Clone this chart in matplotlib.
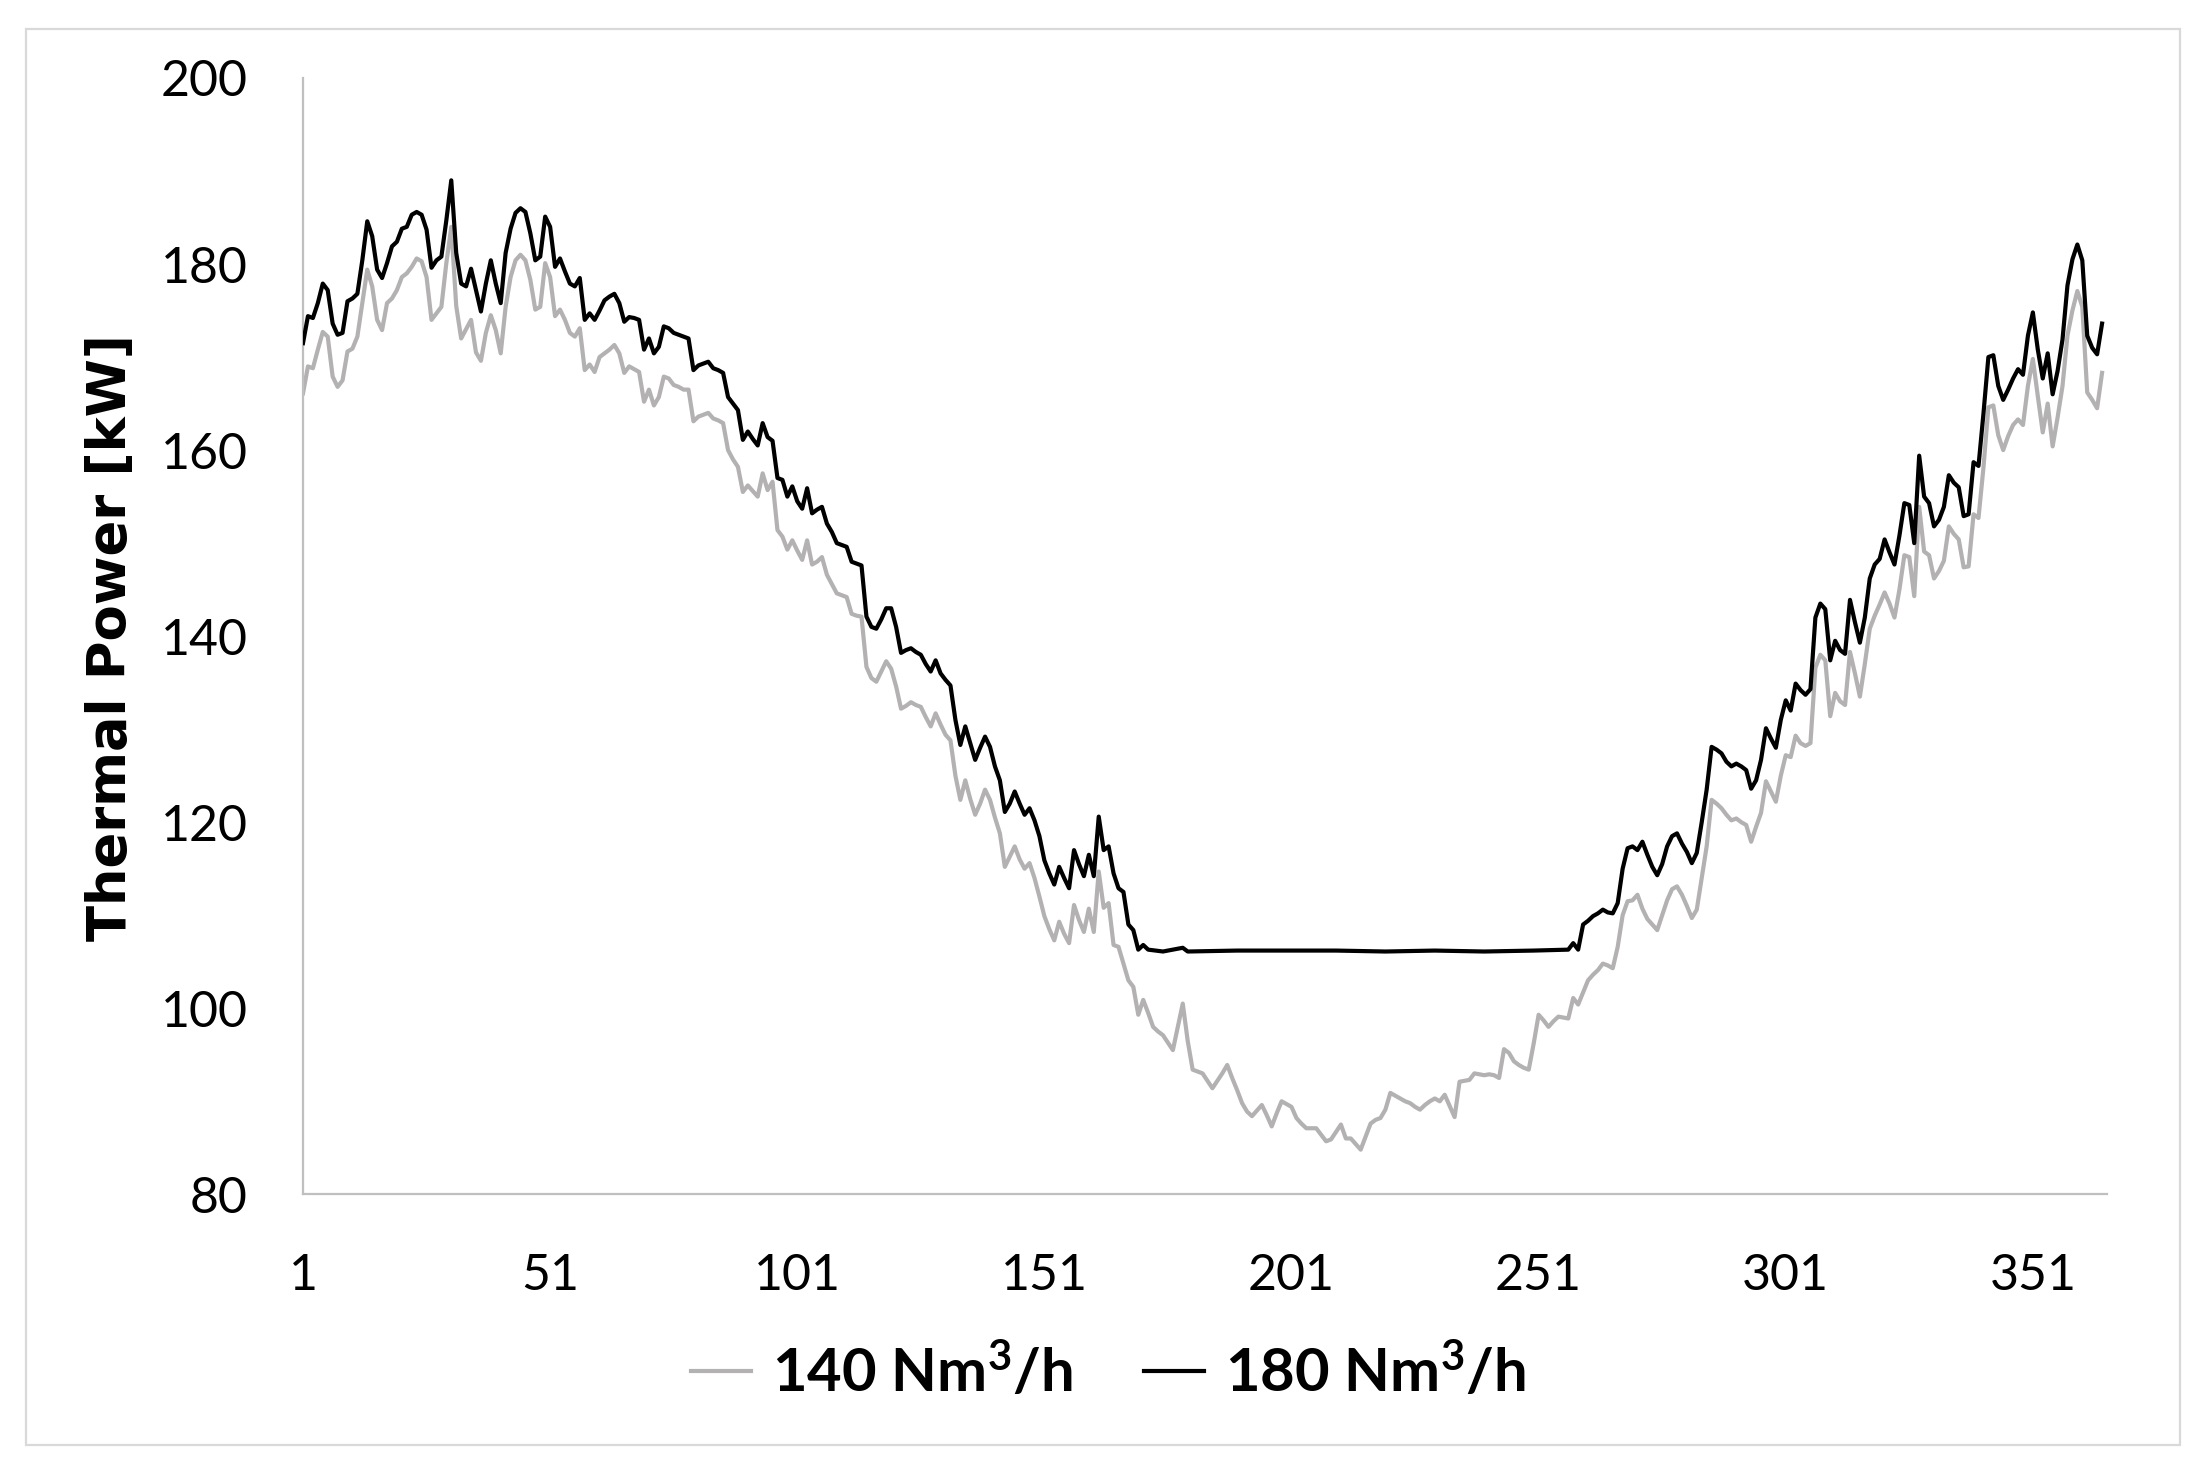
import matplotlib
matplotlib.use("Agg")
import matplotlib.pyplot as plt
from matplotlib.lines import Line2D
from matplotlib.patches import Rectangle

plt.rcParams["mathtext.fontset"] = "custom"
plt.rcParams["mathtext.rm"] = "Lato:bold"
plt.rcParams["mathtext.bf"] = "Lato:bold"
plt.rcParams["mathtext.it"] = "Lato:bold"

# ---------------- data ----------------
days_140 = list(range(1, 366))
power_140 = [
    166.1, 169.0, 168.8, 170.8, 172.7, 172.2, 167.9, 166.8, 167.5, 170.6,
    170.9, 172.2, 175.8, 179.4, 177.6, 174.0, 172.9, 175.8, 176.3, 177.2,
    178.6, 179.0, 179.7, 180.6, 180.3, 178.6, 174.0, 174.7, 175.4, 180.1,
    184.0, 175.5, 172.0, 173.0, 174.0, 170.5, 169.6, 172.6, 174.5, 172.9,
    170.4, 175.4, 178.6, 180.4, 181.0, 180.4, 178.3, 175.1, 175.4, 180.1,
    178.6, 174.4, 175.1, 174.0, 172.6, 172.2, 173.1, 168.6, 169.2, 168.4,
    170.0, 170.4, 170.8, 171.3, 170.4, 168.3, 169.0, 168.7, 168.4, 165.2,
    166.5, 164.8, 165.7, 167.9, 167.7, 167.0, 166.8, 166.5, 166.5, 163.1,
    163.6, 163.8, 164.0, 163.4, 163.2, 162.9, 160.0, 159.0, 158.2, 155.5,
    156.2, 155.6, 155.0, 157.5, 155.7, 156.6, 151.4, 150.7, 149.3, 150.3,
    149.2, 148.2, 150.3, 147.7, 148.0, 148.5, 146.6, 145.6, 144.6, 144.4,
    144.2, 142.4, 142.2, 142.1, 136.7, 135.5, 135.1, 136.2, 137.3, 136.5,
    134.6, 132.2, 132.5, 132.9, 132.6, 132.4, 131.3, 130.3, 131.7, 130.5,
    129.4, 128.8, 125.0, 122.4, 124.5, 122.5, 120.8, 122.0, 123.5, 122.4,
    120.5, 118.8, 115.2, 116.3, 117.4, 116.0, 115.0, 115.6, 114.0, 112.0,
    109.9, 108.5, 107.3, 109.3, 108.0, 107.0, 111.1, 109.5, 108.2, 110.7,
    108.2, 114.7, 110.8, 111.3, 106.8, 106.6, 104.8, 103.0, 102.3, 99.3,
    100.9, 99.5, 98.0, 97.5, 97.1, 96.3, 95.5, 98.0, 100.5, 96.5,
    93.4, 93.2, 93.0, 92.2, 91.4, 92.2, 93.0, 93.9, 92.5, 91.2,
    89.8, 88.9, 88.4, 89.0, 89.6, 88.5, 87.3, 88.7, 90.0, 89.7,
    89.4, 88.2, 87.6, 87.1, 87.1, 87.1, 86.4, 85.7, 85.9, 86.7,
    87.5, 86.0, 86.0, 85.4, 84.8, 86.2, 87.6, 88.0, 88.2, 89.1,
    90.9, 90.6, 90.3, 90.0, 89.8, 89.4, 89.1, 89.6, 90.0, 90.3,
    90.0, 90.7, 89.5, 88.3, 92.1, 92.2, 92.3, 93.0, 92.9, 92.8,
    92.9, 92.8, 92.5, 95.6, 95.2, 94.3, 93.9, 93.6, 93.4, 96.2,
    99.3, 98.7, 98.0, 98.6, 99.1, 99.0, 98.9, 101.1, 100.4, 101.7,
    103.0, 103.6, 104.1, 104.8, 104.6, 104.3, 106.6, 110.0, 111.5, 111.6,
    112.2, 110.7, 109.6, 109.0, 108.4, 110.0, 111.6, 112.8, 113.1, 112.2,
    111.0, 109.7, 110.6, 114.0, 117.4, 122.4, 122.0, 121.5, 120.8, 120.2,
    120.4, 120.0, 119.7, 117.9, 119.5, 121.0, 124.4, 123.3, 122.2, 125.0,
    127.2, 127.0, 129.3, 128.5, 128.2, 128.5, 136.6, 138.0, 137.4, 131.4,
    133.9, 133.0, 132.6, 138.3, 136.0, 133.5, 137.0, 140.8, 142.2, 143.4,
    144.7, 143.5, 142.0, 145.0, 148.7, 148.5, 144.3, 153.9, 149.1, 148.7,
    146.2, 147.0, 148.1, 151.8, 151.0, 150.4, 147.4, 147.5, 153.1, 152.7,
    158.1, 164.6, 164.8, 161.6, 160.0, 161.5, 162.7, 163.3, 162.7, 166.9,
    169.8, 165.8, 161.9, 165.0, 160.4, 163.5, 166.9, 172.3, 175.0, 177.1,
    175.4, 166.2, 165.4, 164.5, 168.3,
]

days_180 = (list(range(1, 173))
            + [175, 179, 180, 190, 200, 210, 220, 230, 240, 250, 257]
            + list(range(258, 366)))
power_180 = [
    171.5, 174.4, 174.2, 175.8, 177.9, 177.2, 173.6, 172.4, 172.6, 176.0,
    176.3, 176.8, 180.4, 184.6, 183.0, 179.4, 178.5, 180.1, 181.9, 182.4,
    183.8, 184.0, 185.3, 185.6, 185.3, 183.7, 179.6, 180.4, 180.8, 184.7,
    189.0, 181.2, 177.9, 177.6, 179.5, 177.2, 174.9, 177.9, 180.4, 177.9,
    175.8, 181.2, 183.8, 185.5, 186.0, 185.6, 183.3, 180.4, 180.8, 185.1,
    184.0, 179.7, 180.6, 179.2, 177.9, 177.6, 178.5, 174.0, 174.7, 174.0,
    175.0, 176.1, 176.5, 176.8, 175.8, 173.8, 174.3, 174.2, 174.0, 170.8,
    172.0, 170.4, 171.1, 173.3, 173.1, 172.6, 172.4, 172.2, 172.0, 168.6,
    169.1, 169.3, 169.5, 168.8, 168.6, 168.3, 165.7, 165.0, 164.3, 161.1,
    162.0, 161.2, 160.5, 162.9, 161.4, 161.0, 157.0, 156.8, 155.0, 156.1,
    154.5, 153.7, 155.9, 153.2, 153.6, 153.9, 152.1, 151.2, 150.0, 149.8,
    149.6, 148.0, 147.8, 147.6, 142.1, 141.0, 140.8, 141.8, 143.0, 143.0,
    141.0, 138.2, 138.5, 138.7, 138.3, 138.0, 137.0, 136.2, 137.4, 136.0,
    135.3, 134.7, 131.0, 128.3, 130.3, 128.5, 126.7, 128.0, 129.2, 128.1,
    126.0, 124.5, 121.1, 122.0, 123.3, 122.0, 120.8, 121.5, 120.2, 118.5,
    115.9, 114.5, 113.3, 115.2, 114.0, 112.9, 117.0, 115.5, 114.2, 116.5,
    114.2, 120.6, 117.0, 117.4, 114.5, 112.9, 112.5, 109.0, 108.4, 106.3,
    106.8, 106.3,
    106.1, 106.5, 106.1, 106.2, 106.2, 106.2, 106.1, 106.2, 106.1, 106.2, 106.3,
    107.0, 106.3, 109.0, 109.4, 109.9, 110.2, 110.6, 110.3, 110.2, 111.3,
    115.0, 117.2, 117.4, 117.0, 117.9, 116.5, 115.2, 114.3, 115.5, 117.4,
    118.5, 118.8, 117.7, 116.8, 115.6, 116.7, 120.0, 123.5, 128.1, 127.8,
    127.4, 126.5, 126.0, 126.3, 126.0, 125.6, 123.6, 124.5, 126.7, 130.1,
    129.0, 128.0, 131.0, 133.1, 132.0, 134.9, 134.2, 133.7, 134.3, 142.0,
    143.5, 142.9, 137.4, 139.5, 138.5, 138.1, 143.9, 141.5, 139.3, 142.0,
    146.2, 147.7, 148.3, 150.4, 149.0, 147.7, 150.8, 154.3, 154.1, 150.0,
    159.4, 155.0, 154.3, 151.8, 152.5, 153.9, 157.3, 156.5, 156.0, 152.9,
    153.1, 158.7, 158.3, 163.9, 170.0, 170.2, 166.9, 165.4, 166.5, 167.7,
    168.7, 168.1, 172.3, 174.8, 170.8, 167.7, 170.4, 166.0, 168.5, 171.9,
    177.7, 180.5, 182.1, 180.4, 172.3, 171.0, 170.3, 173.6,
]

labels = ["140 Nm$^{3}$/h", "180 Nm$^{3}$/h"]
x_ticks = [1, 51, 101, 151, 201, 251, 301, 351]
y_ticks = [80, 100, 120, 140, 160, 180, 200]
y_label = "Thermal Power [kW]"

# ---------------- figure ----------------
W, H = 2204, 1476
fig = plt.figure(figsize=(W / 100, H / 100), dpi=100)
fig.patch.set_facecolor("white")

# outer thin border
fig.patches.append(Rectangle((26 / W, 1 - 1445 / H), (2180 - 26) / W, (1445 - 29) / H,
                             transform=fig.transFigure, fill=False,
                             edgecolor="#d9d9d9", linewidth=1.6, zorder=0))

ax = fig.add_axes([303 / W, 1 - 1194.3 / H, (2107 - 303) / W, (1194.3 - 78) / H])

grey = "#b3b1b1"
ax.plot(days_140, power_140, color=grey, lw=3.0, solid_joinstyle="round", zorder=2)
ax.plot(days_180, power_180, color="black", lw=3.0, solid_joinstyle="round", zorder=3)

ax.set_xlim(1, 366)
ax.set_ylim(80, 200)
ax.set_xticks(x_ticks)
ax.set_yticks(y_ticks)
ax.set_xticklabels([str(t) for t in x_ticks], family="Lato", fontsize=36)
ax.set_yticklabels([str(t) for t in y_ticks], family="Lato", fontsize=36)
ax.tick_params(axis="both", length=0)
ax.tick_params(axis="y", pad=40)
ax.tick_params(axis="x", pad=42)

for s in ["top", "right"]:
    ax.spines[s].set_visible(False)
for s in ["left", "bottom"]:
    ax.spines[s].set_color("#bfbfbf")
    ax.spines[s].set_linewidth(1.6)

fig.text(111 / W, 1 - 638 / H, y_label, rotation=90, ha="center", va="center",
         family="DejaVu Sans", fontweight="bold", fontsize=38)

handles = [Line2D([], [], color=grey, lw=3.0), Line2D([], [], color="black", lw=3.0)]
fig.legend(handles, labels, loc="center", bbox_to_anchor=(0.503, 1 - 1372 / H), ncol=2,
           frameon=False, prop={"family": "Lato", "weight": "bold", "size": 43},
           handlelength=1.0, handletextpad=0.35, columnspacing=1.2)

fig.savefig("out.png", dpi=100, facecolor="white")
